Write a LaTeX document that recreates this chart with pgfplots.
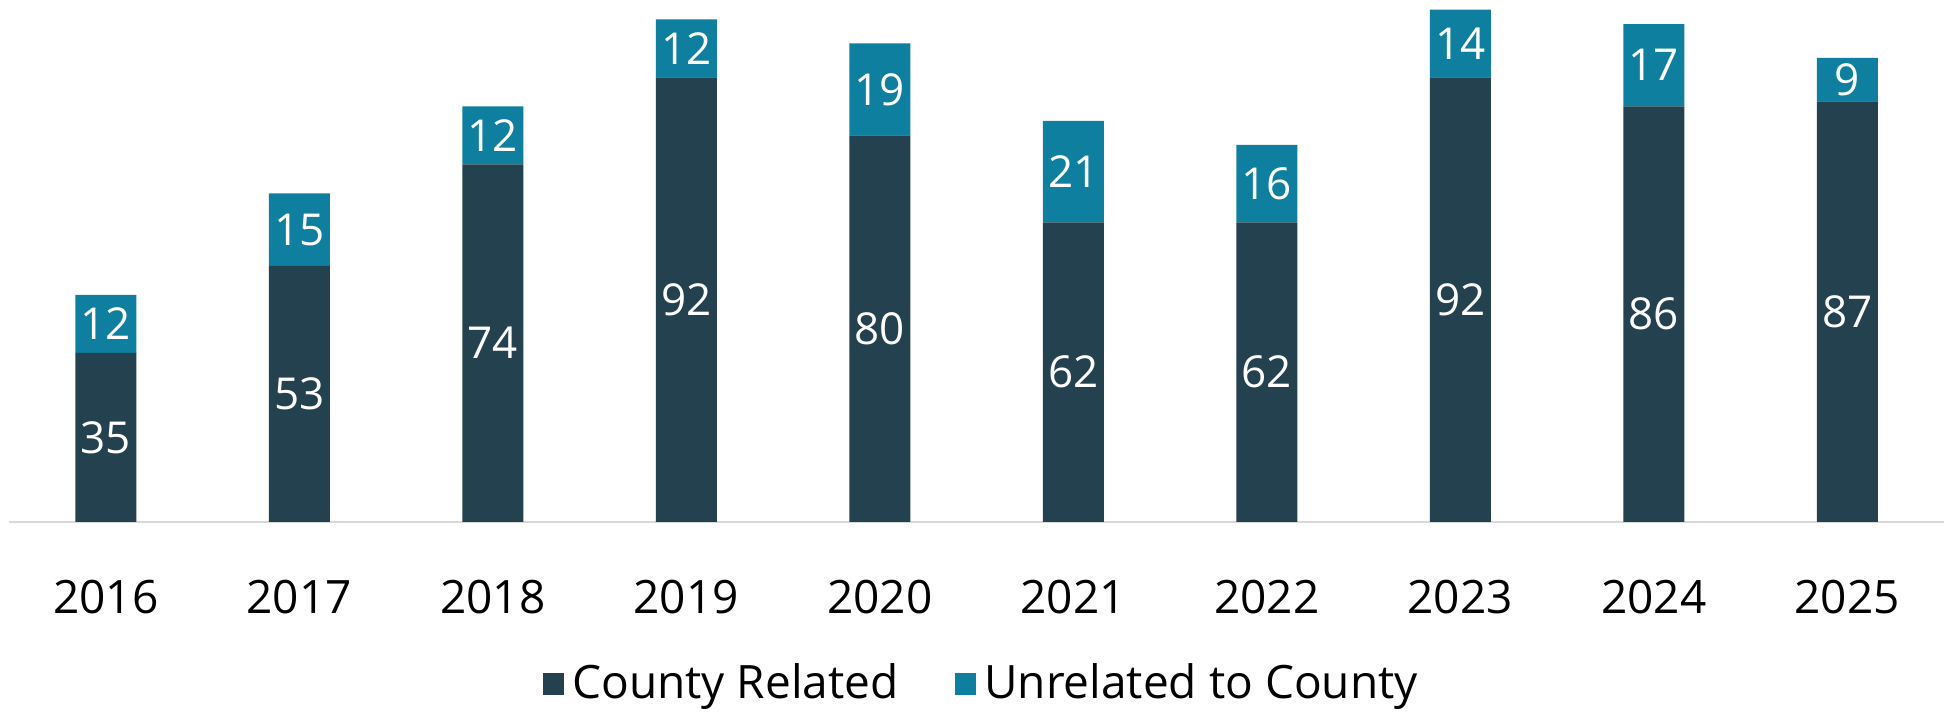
\documentclass[border=0pt]{standalone}
\usepackage{pgfplots}
\pgfplotsset{compat=1.18}
\usepackage{fontspec}
\setmainfont{Open Sans}
\definecolor{countydark}{HTML}{23414F}
\definecolor{countyblue}{HTML}{0F7FA0}

\begin{document}
\begin{tikzpicture}
\useasboundingbox (0,0) rectangle (487.25pt,178pt);
\begin{axis}[
    at={(2.25pt,47.5pt)}, anchor=south west,
    scale only axis, width=483.75pt, height=130.5pt,
    ybar stacked, bar width=15.25pt,
    xmin=-0.5, xmax=9.5, ymin=0, ymax=108,
    axis x line*=bottom, axis y line=none,
    x axis line style={draw=black!15, line width=0.6pt, -},
    xtick=data, major tick length=0pt,
    xticklabels={2016,2017,2018,2019,2020,2021,2022,2023,2024,2025},
    x tick label style={font=\fontsize{11.5}{13}\selectfont, anchor=center, yshift=-18.75pt},
    /pgf/number format/assume math mode=true,
    visualization depends on={rawy \as \rawy},
    nodes near coords={\pgfmathprintnumber{\rawy}},
    every node near coord/.append style={font=\fontsize{11}{12}\selectfont, text=white,
        anchor=center},
    legend style={at={(0.504,-0.31)}, anchor=center, draw=none, legend columns=2,
        font=\fontsize{11.5}{13}\selectfont,
        /tikz/every even column/.append style={column sep=12pt}},
    legend image code/.code={\fill[#1,draw=none] (0pt,-2.7pt) rectangle (5.4pt,2.7pt);},
]
\addplot[fill=countydark, draw=none] coordinates {(0,35)(1,53)(2,74)(3,92)(4,80)(5,62)(6,62)(7,92)(8,86)(9,87)};
\addplot[fill=countyblue, draw=none] coordinates {(0,12)(1,15)(2,12)(3,12)(4,19)(5,21)(6,16)(7,14)(8,17)(9,9)};
\legend{County Related,Unrelated to County}
\end{axis}
\end{tikzpicture}
\end{document}
